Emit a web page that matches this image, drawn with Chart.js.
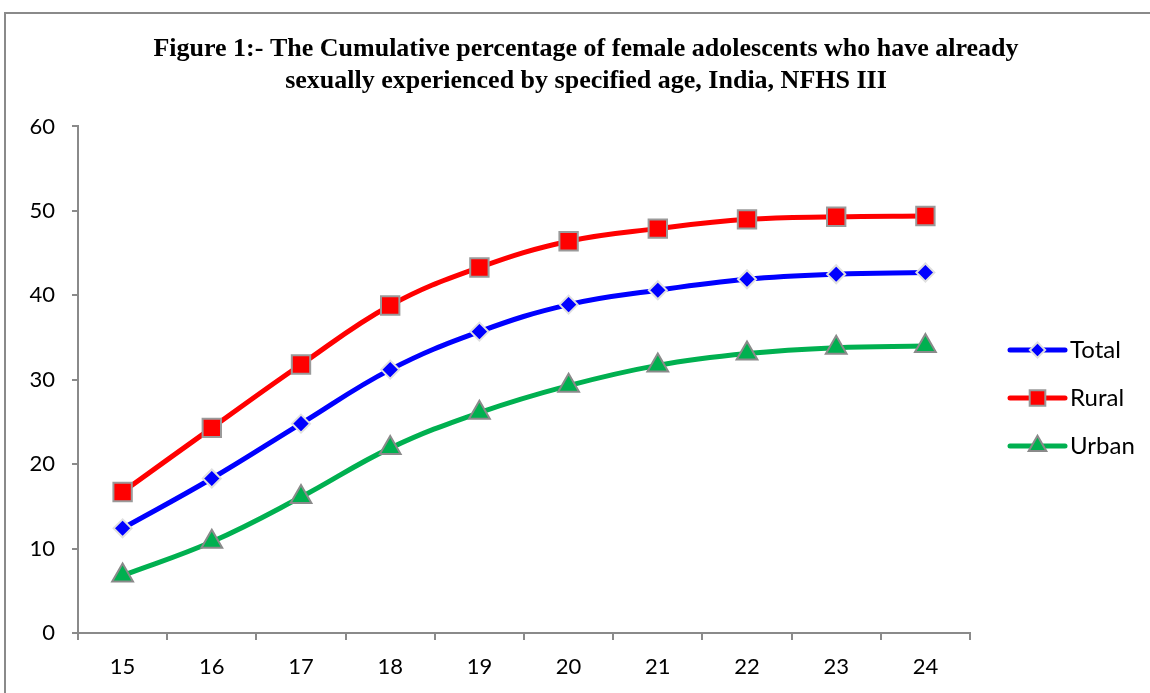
<!DOCTYPE html>
<html>
<head>
<meta charset="utf-8">
<script src="https://cdn.jsdelivr.net/npm/chart.js@4/dist/chart.umd.min.js"></script>
<style>
  body { margin: 0; background: #fff; }
  #frame { position: absolute; left: 4px; top: 12px; width: 1160px; height: 700px; border: 2px solid #8a8a8a; box-sizing: border-box; }
  #wrap { position: absolute; left: 0; top: 0; width: 1150px; height: 693px; }
</style>
</head>
<body>
<div id="frame"></div>
<div id="wrap"><canvas id="grafico"></canvas></div>
<script>
// ages (x axis)
let idades = ['15', '16', '17', '18', '19', '20', '21', '22', '23', '24'];

// cumulative % by age
let total = [12.4, 18.3, 24.8, 31.2, 35.7, 38.9, 40.6, 41.9, 42.5, 42.7];
let rural = [16.7, 24.3, 31.8, 38.8, 43.3, 46.4, 47.9, 49.0, 49.3, 49.4];
let urbano = [6.8, 10.8, 16.1, 21.9, 26.1, 29.3, 31.7, 33.1, 33.8, 34.0];

let tituloLinhas = [
    'Figure 1:- The Cumulative percentage of female adolescents who have already',
    'sexually experienced by specified age, India, NFHS III'
];

let fonteEixo = {family: 'Lato', size: 22};

// legend with line + marker, like the original
let legendaLateral = {
    id: 'legendaLateral',
    afterDraw(chart){
        let c = chart.ctx;
        let x0 = 1010, x1 = 1065, ys = [350, 398, 446];
        chart.data.datasets.forEach((ds, i) => {
            let y = ys[i];
            c.save();
            c.strokeStyle = ds.borderColor;
            c.lineWidth = 5;
            c.lineCap = 'round';
            c.beginPath();
            c.moveTo(x0, y);
            c.lineTo(x1, y);
            c.stroke();
            c.fillStyle = ds.pointBackgroundColor;
            c.strokeStyle = ds.pointBorderColor;
            c.lineWidth = ds.pointBorderWidth;
            Chart.helpers.drawPoint(c, {pointStyle: ds.pointStyle, radius: ds.pointRadius * 0.85, rotation: 0, borderWidth: ds.pointBorderWidth}, (x0 + x1) / 2, y);
            c.fillStyle = '#000';
            c.font = '24px Lato';
            c.textBaseline = 'middle';
            c.fillText(ds.label, x1 + 5, y);
            c.restore();
        });
    }
};

let data = {
    labels: idades,
    datasets: [{
        label: 'Total',
        data: total,
        borderColor: '#0000ff',
        pointBackgroundColor: '#0000ff',
        pointBorderColor: '#e0e0e0',
        pointBorderWidth: 2,
        pointStyle: 'rectRot',
        pointRadius: 9
    }, {
        label: 'Rural',
        data: rural,
        borderColor: '#ff0000',
        pointBackgroundColor: '#ff0000',
        pointBorderColor: '#9a9a9a',
        pointBorderWidth: 2,
        pointStyle: 'rect',
        pointRadius: 13
    }, {
        label: 'Urban',
        data: urbano,
        borderColor: '#00b050',
        pointBackgroundColor: '#00b050',
        pointBorderColor: '#8a8a8a',
        pointBorderWidth: 2,
        pointStyle: 'triangle',
        pointRadius: 12
    }]
};

let config = {
    type: 'line',
    data: data,
    options: {
        responsive: true,
        maintainAspectRatio: false,
        animation: false,
        layout: {padding: {left: 22, right: 0, top: 0, bottom: 0}},
        elements: {line: {borderWidth: 5, tension: 0.4}},
        plugins: {
            legend: {display: false},
            tooltip: {enabled: false},
            title: {
                display: true,
                text: tituloLinhas,
                color: '#000',
                font: {family: 'Liberation Serif', size: 26, weight: 'bold', lineHeight: 1.24},
                padding: {top: 33, bottom: 29}
            }
        },
        scales: {
            x: {
                offset: true,
                grid: {offset: true, drawOnChartArea: false, tickLength: 7, color: '#8a8a8a', lineWidth: 2},
                border: {color: '#8a8a8a', width: 2},
                ticks: {color: '#000', font: fonteEixo, padding: 14, maxRotation: 0},
                afterFit(scale){ scale.height = 60; }
            },
            y: {
                min: 0,
                max: 60,
                grid: {drawOnChartArea: false, tickLength: 6, color: '#8a8a8a', lineWidth: 2},
                border: {color: '#8a8a8a', width: 2},
                ticks: {stepSize: 10, color: '#000', font: fonteEixo, padding: 17},
                afterFit(scale){ scale.width = 56; }
            },
            // empty space on the right for the legend
            espaco: {
                type: 'linear',
                position: 'right',
                min: 0,
                max: 1,
                ticks: {display: false},
                grid: {display: false},
                border: {display: false},
                afterFit(scale){ scale.width = 180; }
            }
        }
    },
    plugins: [legendaLateral]
};

let ctx = new Chart(document.getElementById('grafico'), config);
</script>
</body>
</html>
